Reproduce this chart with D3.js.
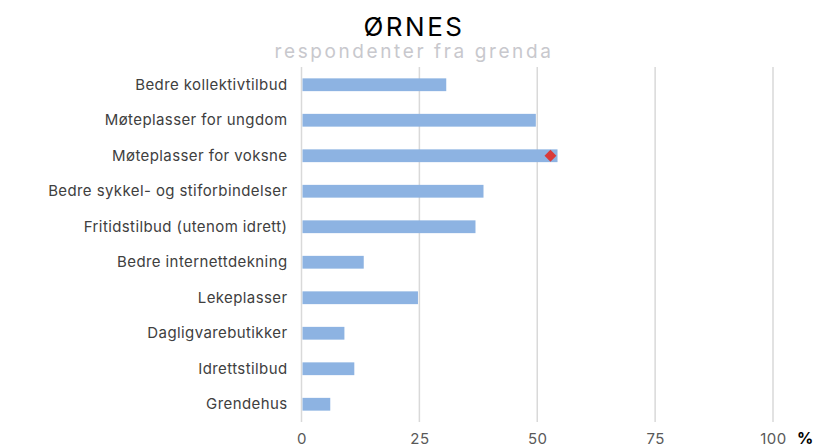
<!DOCTYPE html>
<html>
<head>
<meta charset="utf-8">
<script src="https://cdn.jsdelivr.net/npm/d3@7"></script>
<style>
  body { margin: 0; background: #fff; }
  svg { display: block; font-family: Inter, "Noto Sans", sans-serif; }
</style>
</head>
<body>
<div id="chart"></div>
<script>
const categories = [
    "Bedre kollektivtilbud",
    "Møteplasser for ungdom",
    "Møteplasser for voksne",
    "Bedre sykkel- og stiforbindelser",
    "Fritidstilbud (utenom idrett)",
    "Bedre internettdekning",
    "Lekeplasser",
    "Dagligvarebutikker",
    "Idrettstilbud",
    "Grendehus"
];
const values = [30.7, 49.7, 54.3, 38.6, 36.9, 13.2, 24.7, 9.1, 11.2, 6.1];
// red diamond marker, only on one row
const markerCategories = ["Møteplasser for voksne"];
const markerValues = [52.8];
const xTicks = [0, 25, 50, 75, 100];

const width = 813, height = 448;
const margin = { top: 67, right: 40, bottom: 26, left: 301.5 };

const svg = d3.select("#chart").append("svg")
    .attr("width", width)
    .attr("height", height);

const x = d3.scaleLinear()
    .domain([0, 100])
    .range([margin.left, 773]);

const y = d3.scaleBand()
    .domain(categories)
    .range([margin.top, height - margin.bottom])
    .paddingInner(0.64)
    .paddingOuter(0.32);

// gridlines
svg.append("g")
    .selectAll("line")
    .data(xTicks)
    .enter().append("line")
    .attr("x1", d => x(d))
    .attr("x2", d => x(d))
    .attr("y1", margin.top)
    .attr("y2", height - margin.bottom)
    .attr("stroke", "#d9d9d9")
    .attr("stroke-width", 1.5);

// bars
svg.selectAll(".bar")
    .data(categories)
    .enter().append("rect")
    .attr("class", "bar")
    .attr("x", x(0) + 1)
    .attr("y", d => y(d))
    .attr("width", (d, i) => x(values[i]) - x(0) - 1)
    .attr("height", y.bandwidth())
    .attr("fill", "#8db3e2");

// category labels
svg.append("g")
    .attr("transform", `translate(${x(0) - 14},0)`)
    .call(d3.axisLeft(y).tickSize(0).tickPadding(0))
    .call(g => g.select(".domain").remove())
    .selectAll("text")
    .attr("font-family", "Inter, 'Noto Sans', sans-serif")
    .attr("font-size", 15)
    .attr("letter-spacing", 0.4)
    .attr("fill", "#404040");

// x tick labels
svg.append("g")
    .attr("transform", `translate(0,${height - 17})`)
    .call(d3.axisBottom(x).tickValues(xTicks).tickSize(0).tickPadding(0).tickFormat(d3.format("d")))
    .call(g => g.select(".domain").remove())
    .selectAll("text")
    .attr("dy", "0")
    .attr("y", 13)
    .attr("font-family", "Inter, 'Noto Sans', sans-serif")
    .attr("font-size", 15)
    .attr("letter-spacing", 0.5)
    .attr("fill", "#595959");

svg.append("text")
    .attr("x", 797)
    .attr("y", 444)
    .attr("font-size", 16)
    .attr("font-weight", "bold")
    .attr("fill", "#000")
    .text("%");

// diamond marker
svg.selectAll(".marker")
    .data(markerCategories)
    .enter().append("path")
    .attr("class", "marker")
    .attr("d", d3.symbol().type(d3.symbolDiamond2).size(90))
    .attr("transform", (d, i) => `translate(${x(markerValues[i])},${y(d) + y.bandwidth() / 2})`)
    .attr("fill", "#d93a3a");

// titles
svg.append("text")
    .attr("x", 414)
    .attr("y", 36)
    .attr("text-anchor", "middle")
    .attr("font-size", 26)
    .attr("letter-spacing", 2.5)
    .attr("fill", "#000")
    .text("ØRNES");

svg.append("text")
    .attr("x", 414)
    .attr("y", 58)
    .attr("text-anchor", "middle")
    .attr("font-size", 19)
    .attr("letter-spacing", 2.6)
    .attr("fill", "#c8c8cd")
    .text("respondenter fra grenda");
</script>
</body>
</html>
